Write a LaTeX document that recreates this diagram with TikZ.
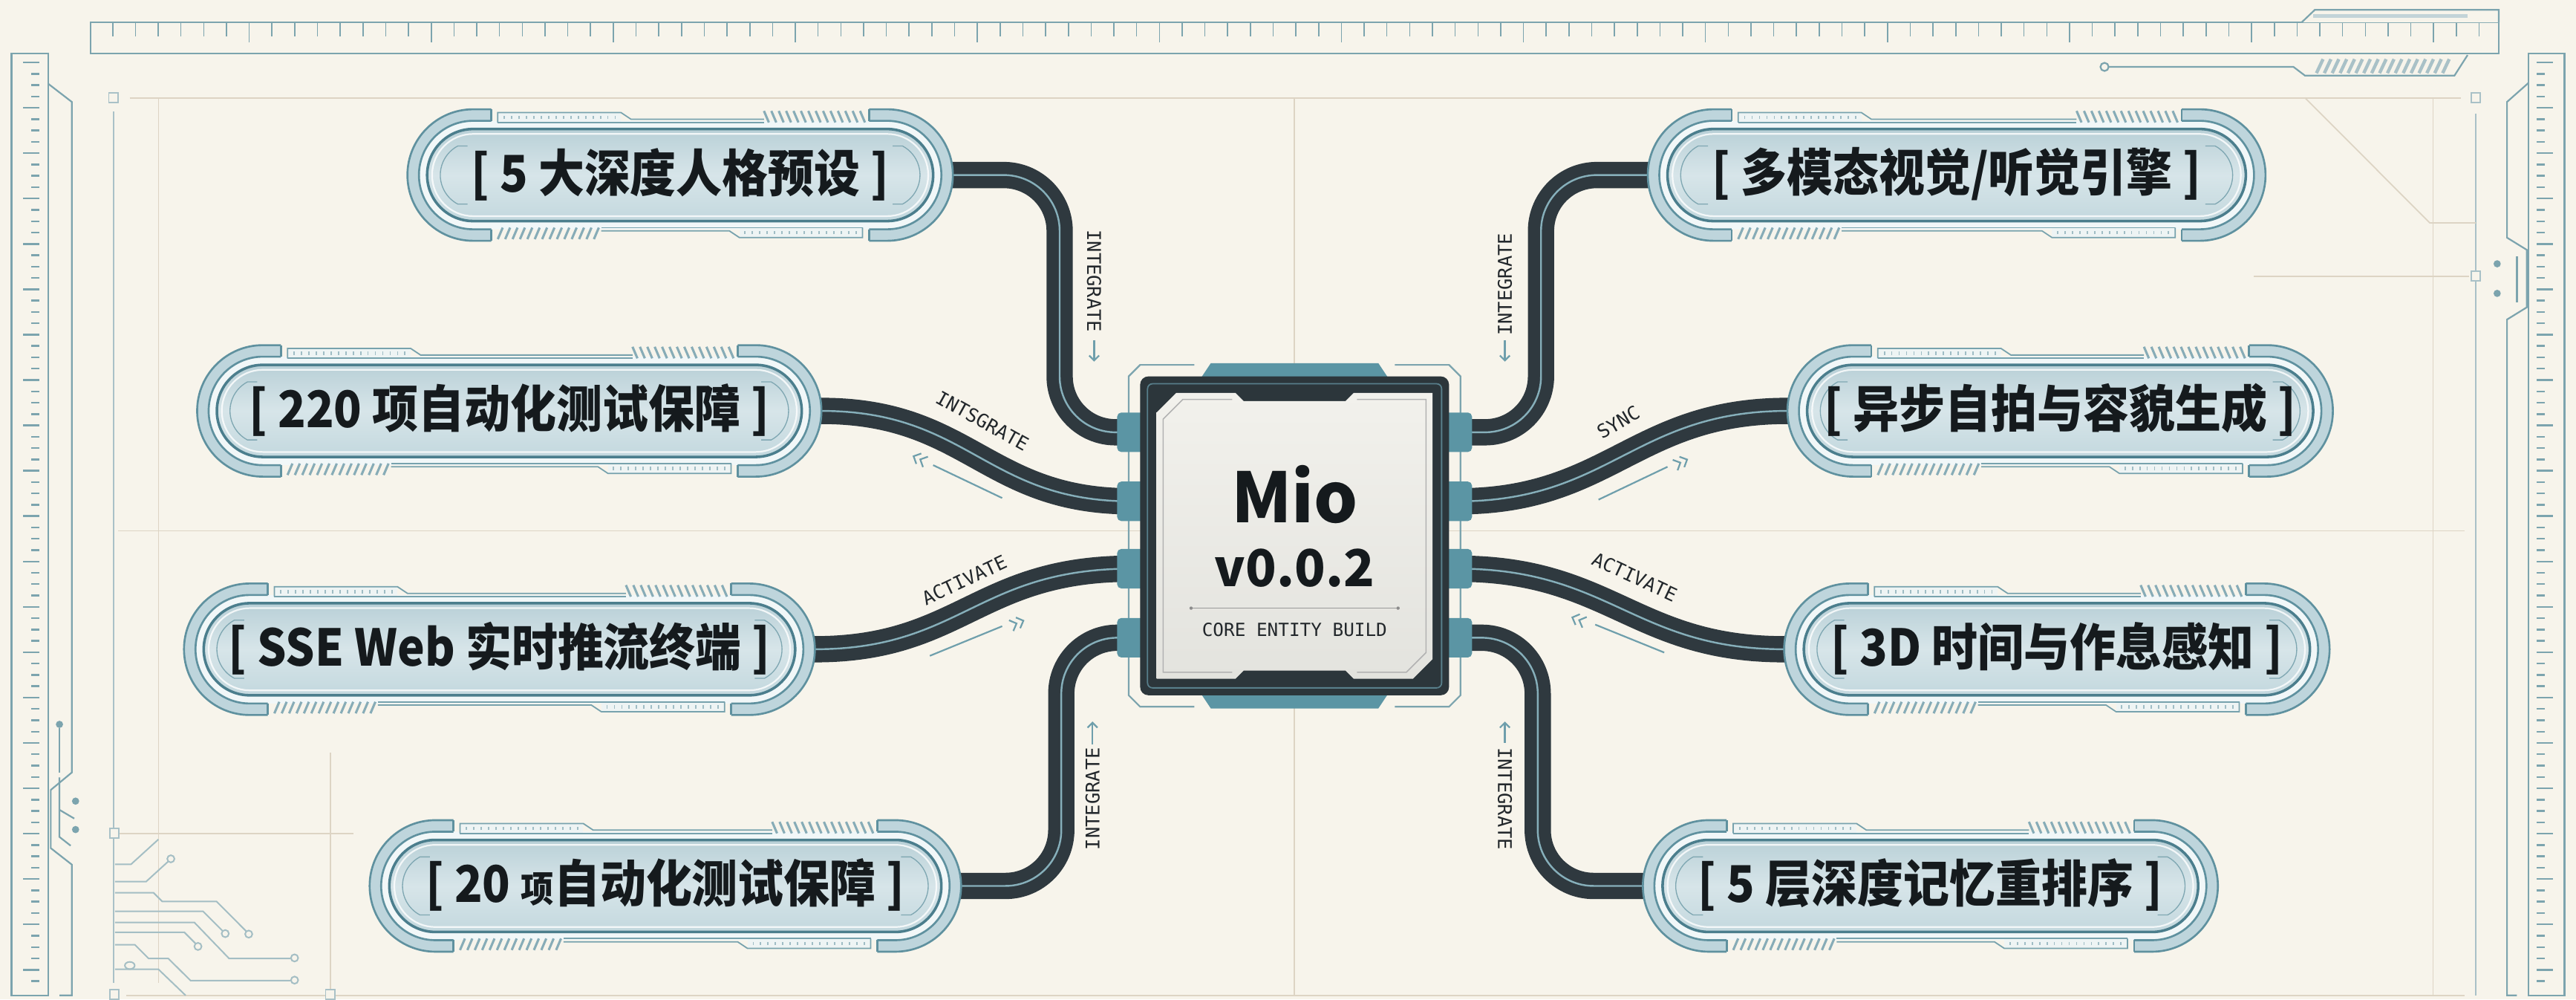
\documentclass[tikz,border=0pt]{standalone}
\usepackage{fontspec}
\usepackage{graphicx}
\usetikzlibrary{arrows.meta}
\newfontfamily\cjk{Noto Sans CJK SC}
\newfontfamily\monof{DejaVu Sans Mono}

\definecolor{bgc}{HTML}{F7F4EB}
\definecolor{tanln}{HTML}{DDD4C4}
\definecolor{tealfr}{HTML}{7CA4AE}
\definecolor{teallt}{HTML}{A9C1C7}
\definecolor{pinc}{HTML}{5B95A4}
\definecolor{cabledk}{HTML}{2F393F}
\definecolor{cableln}{HTML}{86AFBA}
\definecolor{chipdk}{HTML}{2C363B}
\definecolor{chipln}{HTML}{587F8B}
\definecolor{panelt}{HTML}{F2F1EC}
\definecolor{panelb}{HTML}{E3E3DE}
\definecolor{capc}{HTML}{BED5DC}
\definecolor{capln}{HTML}{5F919F}
\definecolor{bodytop}{HTML}{B9D0D7}
\definecolor{bodymid}{HTML}{D7E5E9}
\definecolor{bodybot}{HTML}{C3D8DE}
\definecolor{bodyln}{HTML}{4B7E8D}
\definecolor{ringc}{HTML}{F1F7F8}
\definecolor{stripc}{HTML}{EEF4F4}
\definecolor{txtc}{HTML}{151A1D}
\definecolor{lblc}{HTML}{22272B}
\definecolor{decoteal}{HTML}{6F9FAC}

\pgfdeclarelayer{deco}
\pgfdeclarelayer{wires}
\pgfsetlayers{deco,wires,main}

\tikzset{
  frameln/.style={draw=tanln, line width=0.8pt},
  tealline/.style={draw=tealfr, line width=1pt},
  lighttl/.style={draw=teallt, line width=0.8pt},
  trace/.style={draw=teallt!90!tealfr, line width=0.9pt},
  tracedot/.style={draw=teallt!90!tealfr, fill=bgc, line width=0.9pt},
  cable/.style={draw=cableln, line width=1.1pt, preaction={draw=cabledk, line width=16pt}},
  pinbox/.style={fill=pinc, rounded corners=2.5pt, minimum width=17pt, minimum height=24pt, inner sep=0pt},
  pilltext/.style={font=\cjk\bfseries\fontsize{28}{30}\selectfont, text=txtc, inner sep=0pt},
  lbl/.style={font=\monof\fontsize{11.5}{11.5}\selectfont, text=lblc, inner sep=0pt},
  arcln/.style={draw=capln!80, line width=0.6pt},
  stripln/.style={draw=capln!85, line width=0.8pt},
  tickln/.style={draw=capln!60, line width=0.8pt},
  hatchln/.style={draw=capln!75, line width=1.4pt},
  flowarrow/.style={draw=decoteal, line width=1pt, -{Straight Barb[length=3pt,width=6pt]}},
  flowline/.style={draw=decoteal, line width=1pt},
}

% one capsule label with its end caps, trim strips and the text node
\newcommand\pillbox[5]{%
\begin{scope}[shift={(#2,#3)}]
  \def\pw{#4}
  \fill[ringc] [rounded corners=33pt] ({-\pw+7},-33) rectangle ({\pw-7},33);
  \begin{scope}
    \clip ({-\pw-2},-42) rectangle ({-\pw+51},42) ({\pw-51},-42) rectangle ({\pw+2},42);
    \path[fill=capc, draw=capln, line width=1.2pt, even odd rule]
      [rounded corners=40pt] (-\pw,-40) rectangle (\pw,40)
      [rounded corners=33pt] ({-\pw+7},-33) rectangle ({\pw-7},33);
  \end{scope}
  \draw[capln, line width=1.2pt]
    ({-\pw+51},33) -- ({-\pw+51},40) ({-\pw+51},-33) -- ({-\pw+51},-40)
    ({\pw-51},33) -- ({\pw-51},40) ({\pw-51},-33) -- ({\pw-51},-40);
  \path[draw=bodyln, line width=1.6pt, top color=bodytop, bottom color=bodybot, middle color=bodymid,
        rounded corners=28pt] ({-\pw+12},-28) rectangle ({\pw-12},28);
  \draw[white, line width=1pt, opacity=.8, rounded corners=25pt] ({-\pw+15},-25) rectangle ({\pw-15},25);
  \draw[arcln] ({-\pw+40+20*cos(118)+6},{20*sin(118)}) -- ++(-6,0)
        arc[start angle=118, end angle=242, radius=20] -- ++(6,0);
  \draw[arcln] ({\pw-40+20*cos(62)-6},{20*sin(62)}) -- ++(6,0)
        arc[start angle=62, end angle=-62, radius=20] -- ++(-6,0);
  % top trim strip
  \fill[stripc] ({-\pw+55},32) rectangle ({-\pw+130},38);
  \draw[stripln] ({-\pw+55},32) -- ({-\pw+55},38) -- ({-\pw+130},38) -- ({-\pw+136},34) -- ({\pw-115},34);
  \draw[stripln] ({-\pw+55},32) -- ({\pw-115},32);
  \foreach \i in {0,...,15} \draw[tickln] ({-\pw+59+\i*4.5},34) -- ++(0,2);
  \foreach \i in {0,...,13} \draw[hatchln] ({\pw-115+\i*4.5},39) -- ++(3,-7);
  % bottom trim strip
  \fill[stripc] ({\pw-130},-38) rectangle ({\pw-55},-32);
  \draw[stripln] ({\pw-55},-32) -- ({\pw-55},-38) -- ({\pw-130},-38) -- ({\pw-136},-34) -- ({-\pw+118},-34);
  \draw[stripln] ({\pw-55},-32) -- ({-\pw+118},-32);
  \foreach \i in {0,...,15} \draw[tickln] ({\pw-59-\i*4.5},-36) -- ++(0,2);
  \foreach \i in {0,...,13} \draw[hatchln] ({-\pw+55+\i*4.5},-39) -- ++(3,7);
\end{scope}
\coordinate (#1-w) at ({#2-#4+16},#3);
\coordinate (#1-e) at ({#2+#4-16},#3);
\node[pilltext] (#1) at (#2,{#3+0.5}) {\scalebox{1}[1.1]{#5}};
}

% double chevron pointing along a given angle
\newcommand\chevrons[3]{%
\begin{scope}[shift={(#1,#2)}, rotate=#3]
  \draw[flowline, line join=miter] (-7,3.5) -- (-3.5,0) -- (-7,-3.5) (-2.5,3.5) -- (1,0) -- (-2.5,-3.5);
\end{scope}}

\begin{document}
\begin{tikzpicture}[x=1pt, y=1pt]
\useasboundingbox (0,0) rectangle (1568,608);

%================ frame and background decoration ================
\begin{pgfonlayer}{deco}
  \fill[bgc] (0,0) rectangle (1568,608);
  % faint layout grid
  \draw[frameln] (79,548.5) -- (1498,548.5);
  \draw[frameln] (77,2.4) -- (1500,2.4);
  \draw[frameln] (72,285) -- (1500,285);
  \draw[frameln] (788,548.5) -- (788,2.4);
  \draw[frameln] (96.5,548.5) -- (96.5,10);
  \draw[lighttl] (69,540) -- (69,10);
  \draw[frameln] (69,101) -- (215,101);
  \draw[frameln] (201,150) -- (201,2.4);
  \draw[frameln] (1481,548.5) -- (1481,2.4);
  \draw[lighttl] (1507,539) -- (1507,2.4);
  \draw[frameln] (1403,548.5) -- (1479,472.4) -- (1507,472.4);
  \draw[frameln] (1372,440) -- (1503,440);
  \foreach \p in {(69,548.5),(1507,548.5),(69.6,101),(69.6,3),(201,3),(1507,440)}
    \draw[lighttl, fill=bgc] \p ++(-2.8,-3) rectangle ++(5.6,6);

  % top ruler
  \draw[tealline] (55,575.6) rectangle (1521,594.4);
  \foreach \k in {0,...,104}{
    \pgfmathsetmacro\tl{ifthenelse(mod(\k+2,8)==0,12,8.5)}
    \draw[tealfr, line width=0.7pt] ({68.6+13.85*\k},594.4) -- ++(0,-\tl);
  }
  \draw[tealline, fill=bgc] (1401,594.4) -- (1409,602) -- (1521,602) -- (1521,594.4);
  \fill[teallt!70] (1408,597) rectangle (1502,599.5);
  \draw[tealline] (1281,567.3) circle (2.5);
  \draw[tealline] (1283.5,567.3) -- (1396,567.3) -- (1403,562) -- (1494,562) -- (1502,574.5);
  \foreach \k in {0,...,16} \draw[teallt, line width=2pt] ({1410+\k*4.8},563.5) -- ++(4,8.5);

  % left ruler
  \draw[tealline] (7,2.4) rectangle (29.4,575.6);
  \foreach \k in {0,...,81}{
    \pgfmathsetmacro\tl{ifthenelse(mod(\k,4)==0,10,5)}
    \draw[tealfr, line width=1.1pt] (24,{570-6.9*\k}) -- ++(-\tl,0);
  }
  \draw[tealline] (29.4,557) -- (43.7,546) -- (43.7,138) -- (30.9,127.4) -- (30.9,92) -- (43.7,82) -- (43.7,2.4) -- (36.2,2.4);
  \draw[tealline] (36.2,135) -- (36.2,98.8) -- (43,93.5);
  \draw[tealline] (36.2,165) -- (36.2,138);
  \fill[tealfr] (36.2,167.3) circle (2.2);
  \fill[tealfr] (46,120.6) circle (2.2) (46,103.3) circle (2.2);
  \draw[tealline] (36.2,115.3) -- (45.2,110);

  % right ruler
  \draw[tealline] (1539,2.4) rectangle (1561,575.6);
  \foreach \k in {0,...,81}{
    \pgfmathsetmacro\tl{ifthenelse(mod(\k,4)==0,10,5)}
    \draw[tealfr, line width=1.1pt] (1544,{570-6.9*\k}) -- ++(\tl,0);
  }
  \draw[tealline] (1539,557.5) -- (1526,546) -- (1526,463.4) -- (1538,456) -- (1538,421) -- (1526,413.6) -- (1526,2.4) -- (1532,2.4);
  \draw[tealline] (1532,452) -- (1532,424);
  \fill[tealfr] (1520,447.5) circle (2.2) (1520,429.5) circle (2.2);

  % circuit traces, lower left
  \draw[trace] (70,82.2) -- (79.8,82.2) -- (96.4,97.3);
  \draw[trace] (70,71.6) -- (88.9,71.6) -- (102.5,84);
  \draw[tracedot] (104,85.5) circle (2.2);
  \draw[trace] (70,64.9) -- (93.4,64.9) -- (98.7,59.6) -- (131.8,59.6) -- (149.8,41.5);
  \draw[tracedot] (151.4,39.7) circle (2.2);
  \draw[trace] (70,53.6) -- (123.5,53.6) -- (135.6,41.5);
  \draw[tracedot] (137.1,40) circle (2.2);
  \draw[trace] (70,46.8) -- (118.3,46.8) -- (139.4,24.9) -- (177,24.9);
  \draw[tracedot] (179.3,25.2) circle (2.2);
  \draw[trace] (70,40.8) -- (112.2,40.8) -- (119,34);
  \draw[tracedot] (120.5,32.2) circle (2.2);
  \draw[trace] (70,33.2) -- (82.1,33.2) -- (90.4,24.9) -- (102.4,24.9) -- (116,11.4) -- (177,11.4);
  \draw[tracedot] (179.3,11.7) circle (2.2);
  \draw[trace] (70,18.3) -- (96.4,18.3) -- (113,2.4);
  \draw[trace] (79,20.6) ellipse (3 and 2.2);
\end{pgfonlayer}

%================ capsule labels ================
\pillbox{P1}{414}{501.5}{166}{[ 5 大深度人格预设 ]}
\pillbox{P2}{310}{358}{190}{[ 220 项自动化测试保障 ]}
\pillbox{P3}{304}{213}{192}{[ SSE Web 实时推流终端 ]}
\pillbox{P4}{405}{69}{180}{[ 20 {\fontsize{20}{20}\selectfont 项}自动化测试保障 ]}
\pillbox{P5}{1191}{501.5}{188}{[ 多模态视觉/听觉引擎 ]}
\pillbox{P6}{1254}{358}{166}{[ 异步自拍与容貌生成 ]}
\pillbox{P7}{1252}{213}{166}{[ 3D 时间与作息感知 ]}
\pillbox{P8}{1175}{69}{175}{[ 5 层深度记忆重排序 ]}

%================ processor chip ================
% outline brackets
\draw[tealline] (727,386) -- (694,386) -- (687,379) -- (687,185) -- (694,178) -- (727,178);
\draw[tealline] (849,386) -- (882,386) -- (889,379) -- (889,185) -- (882,178) -- (849,178);
% top and bottom tabs
\fill[pinc] (731,378) -- (737,387) -- (839,387) -- (845,378) -- cycle;
\fill[pinc] (731,186) -- (737,177) -- (839,177) -- (845,186) -- cycle;
% pins
\node[pinbox] (L1) at (688.5,345) {};
\node[pinbox] (L2) at (688.5,303) {};
\node[pinbox] (L3) at (688.5,262) {};
\node[pinbox] (L4) at (688.5,220) {};
\node[pinbox] (R1) at (887.5,345) {};
\node[pinbox] (R2) at (887.5,303) {};
\node[pinbox] (R3) at (887.5,262) {};
\node[pinbox] (R4) at (887.5,220) {};
% body
\fill[chipdk, rounded corners=5pt] (694,185) rectangle (882,379);
\draw[chipln, line width=0.8pt, rounded corners=3pt] (698.5,189.5) rectangle (877.5,374.5);
\path[top color=panelt, bottom color=panelb]
  (704,357) -- (716,369) -- (752,369) -- (757,364) -- (819,364) -- (824,369) -- (872,369)
  -- (872,207) -- (860,195) -- (824,195) -- (819,200) -- (757,200) -- (752,195) -- (704,195) -- cycle;
\draw[black!30, line width=0.7pt] (750,365) -- (720,365) -- (708,353) -- (708,199) -- (750,199);
\draw[black!30, line width=0.7pt] (826,199) -- (856,199) -- (868,211) -- (868,365) -- (826,365);
\coordinate (chip) at (788,282);
\node[font=\cjk\bfseries\fontsize{42}{44}\selectfont, text=txtc, inner sep=0pt, anchor=base] (mio) at (788,290) {Mio};
\node[font=\cjk\bfseries\fontsize{31}{33}\selectfont, text=txtc, inner sep=0pt, anchor=base] (ver) at (788,251) {v0.0.2};
\draw[black!40, line width=0.8pt] (725,238) -- (851,238);
\fill[black!45] (725,238) circle (1) (851,238) circle (1);
\node[font=\monof\fontsize{11}{11}\selectfont, text=lblc, inner sep=0pt, anchor=base] (core) at (788,221) {CORE ENTITY BUILD};

%================ cables ================
\begin{pgfonlayer}{wires}
  \draw[cable, rounded corners=34pt] (P1-e) -- (645,501.5) -- (645,345) -- (L1.center);
  \draw[cable] (P2-e) -- (500,358) .. controls (590,358) and (600,303) .. (L2.center);
  \draw[cable] (P3-e) -- (496,213) .. controls (585,213) and (595,262) .. (L3.center);
  \draw[cable, rounded corners=34pt] (P4-e) -- (646,69) -- (646,220) -- (L4.center);
  \draw[cable, rounded corners=34pt] (P5-w) -- (938,501.5) -- (938,345) -- (R1.center);
  \draw[cable] (R2.center) .. controls (980,303) and (995,358) .. (1088,358) -- (P6-w);
  \draw[cable] (R3.center) .. controls (980,262) and (995,213) .. (1086,213) -- (P7-w);
  \draw[cable, rounded corners=34pt] (P8-w) -- (936,69) -- (936,220) -- (R4.center);
\end{pgfonlayer}

%================ cable labels and flow marks ================
\node[lbl, rotate=-90] (t1) at (666,437) {INTEGRATE};
\draw[flowarrow] (666,401) -- (666,388);
\node[lbl, rotate=-29] (t2) at (598,352) {INTSGRATE};
\chevrons{557}{330}{154.5}
\draw[flowline] (568,325) -- (610,305);
\node[lbl, rotate=25] (t3) at (587,255) {ACTIVATE};
\chevrons{622}{230}{22}
\draw[flowline] (566,209) -- (610,227);
\node[lbl, rotate=90] (t4) at (665,122) {INTEGRATE};
\draw[flowarrow] (665,155) -- (665,169);

\node[lbl, rotate=90] (t5) at (916,435) {INTEGRATE};
\draw[flowarrow] (916,401) -- (916,388);
\node[lbl, rotate=30] (t6) at (985,351) {SYNC};
\chevrons{1026}{328}{25}
\draw[flowline] (973,304) -- (1015,324);
\node[lbl, rotate=-25] (t7) at (995,257) {ACTIVATE};
\chevrons{958}{232}{158}
\draw[flowline] (971,228) -- (1013,211);
\node[lbl, rotate=-90] (t8) at (916,122) {INTEGRATE};
\draw[flowarrow] (916,156) -- (916,169);
\end{tikzpicture}
\end{document}
